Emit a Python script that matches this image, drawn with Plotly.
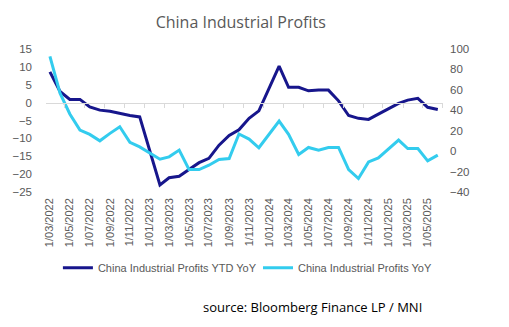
import plotly.graph_objects as go

months = [
    "2022-03-01", "2022-04-01", "2022-05-01", "2022-06-01", "2022-07-01", "2022-08-01",
    "2022-09-01", "2022-10-01", "2022-11-01", "2022-12-01",
    "2023-02-01", "2023-03-01", "2023-04-01", "2023-05-01", "2023-06-01", "2023-07-01",
    "2023-08-01", "2023-09-01", "2023-10-01", "2023-11-01", "2023-12-01",
    "2024-02-01", "2024-03-01", "2024-04-01", "2024-05-01", "2024-06-01", "2024-07-01",
    "2024-08-01", "2024-09-01", "2024-10-01", "2024-11-01", "2024-12-01",
    "2025-02-01", "2025-03-01", "2025-04-01", "2025-05-01", "2025-06-01",
]

ytd_yoy = [
    8.6, 3.1, 0.9, 0.9, -1.2, -2.1, -2.4, -3.0, -3.6, -4.0,
    -23.0, -21.0, -20.6, -18.7, -16.8, -15.6, -11.9, -9.2, -7.6, -4.4, -2.3,
    10.2, 4.3, 4.3, 3.3, 3.5, 3.5, 0.5, -3.6, -4.4, -4.7, -3.2,
    -0.2, 0.7, 1.2, -1.3, -1.9,
]

monthly_yoy = [
    92.7, 56.7, 36.4, 20.6, 16.4, 10.1, 17.4, 23.9, 8.6, 4.2,
    -7.9, -5.6, 1.0, -18.0, -18.0, -13.8, -8.2, -7.2, 16.8, 11.8, 3.3,
    29.5, 16.4, -3.3, 3.6, 1.0, 3.6, 3.6, -18.0, -26.8, -10.5, -6.6,
    10.8, 2.6, 2.6, -9.5, -3.9,
]

series_names = ["China Industrial Profits YTD YoY", "China Industrial Profits YoY"]
title_text = "China Industrial Profits"
source_text = "source: Bloomberg Finance LP / MNI"

DARK = "#17168C"
LIGHT = "#33CCEE"
GREY = "#595959"
AXIS_GREY = "#D9D9D9"

x_range = ["2022-02-17", "2025-06-17"]

fig = go.Figure()
fig.add_trace(go.Scatter(x=months, y=ytd_yoy, name=series_names[0], mode="lines",
                         line=dict(color=DARK, width=3), yaxis="y", xaxis="x",
                         legend="legend"))
fig.add_trace(go.Scatter(x=months, y=monthly_yoy, name=series_names[1], mode="lines",
                         line=dict(color=LIGHT, width=3), yaxis="y2", xaxis="x2",
                         legend="legend2"))

legend_common = dict(orientation="h", xanchor="left", y=-0.53, yanchor="middle",
                     font=dict(size=11, color=GREY), bgcolor="rgba(0,0,0,0)")

fig.update_layout(
    width=509, height=327,
    margin=dict(l=37, r=66, t=49, b=135),
    paper_bgcolor="white", plot_bgcolor="white",
    font=dict(family="Liberation Sans, Arial, sans-serif", color=GREY),
    title=dict(text=title_text, x=0.473, xanchor="center", y=0.93, yanchor="middle",
               font=dict(family="Open Sans, sans-serif", size=16, color=GREY)),
    xaxis=dict(type="date", range=x_range, tickformat="%-d/%m/%Y", dtick="M2",
               tick0="2022-03-01", tickangle=-90, showgrid=False, showline=False,
               zeroline=False, ticks="", ticklabelstandoff=3,
               tickfont=dict(size=11, color=GREY)),
    xaxis2=dict(type="date", range=x_range, overlaying="x", anchor="free", position=0.625,
                showline=True, linecolor=AXIS_GREY, linewidth=1, ticks="outside", ticklen=4,
                tickcolor=AXIS_GREY, tick0="2022-02-15", dtick="M2", showticklabels=False,
                showgrid=False, zeroline=False),
    yaxis=dict(range=[-25, 15], dtick=5, showgrid=False, zeroline=False, showline=False,
               ticks="", ticklabelstandoff=13, tickfont=dict(size=11.5, color=GREY)),
    yaxis2=dict(range=[-40, 100], dtick=20, overlaying="y", side="right", anchor="x",
                showgrid=False, zeroline=False, showline=False, ticks="",
                ticklabelstandoff=6, tickfont=dict(size=11.5, color=GREY)),
    legend=dict(x=0.03, **legend_common),
    legend2=dict(x=0.534, **legend_common),
    showlegend=True,
)

fig.add_annotation(text=source_text, xref="paper", yref="paper", x=0.953, y=-0.802,
                   xanchor="right", yanchor="middle", showarrow=False,
                   font=dict(family="Open Sans, sans-serif", size=13, color="black"))

fig.write_html("out.html")
